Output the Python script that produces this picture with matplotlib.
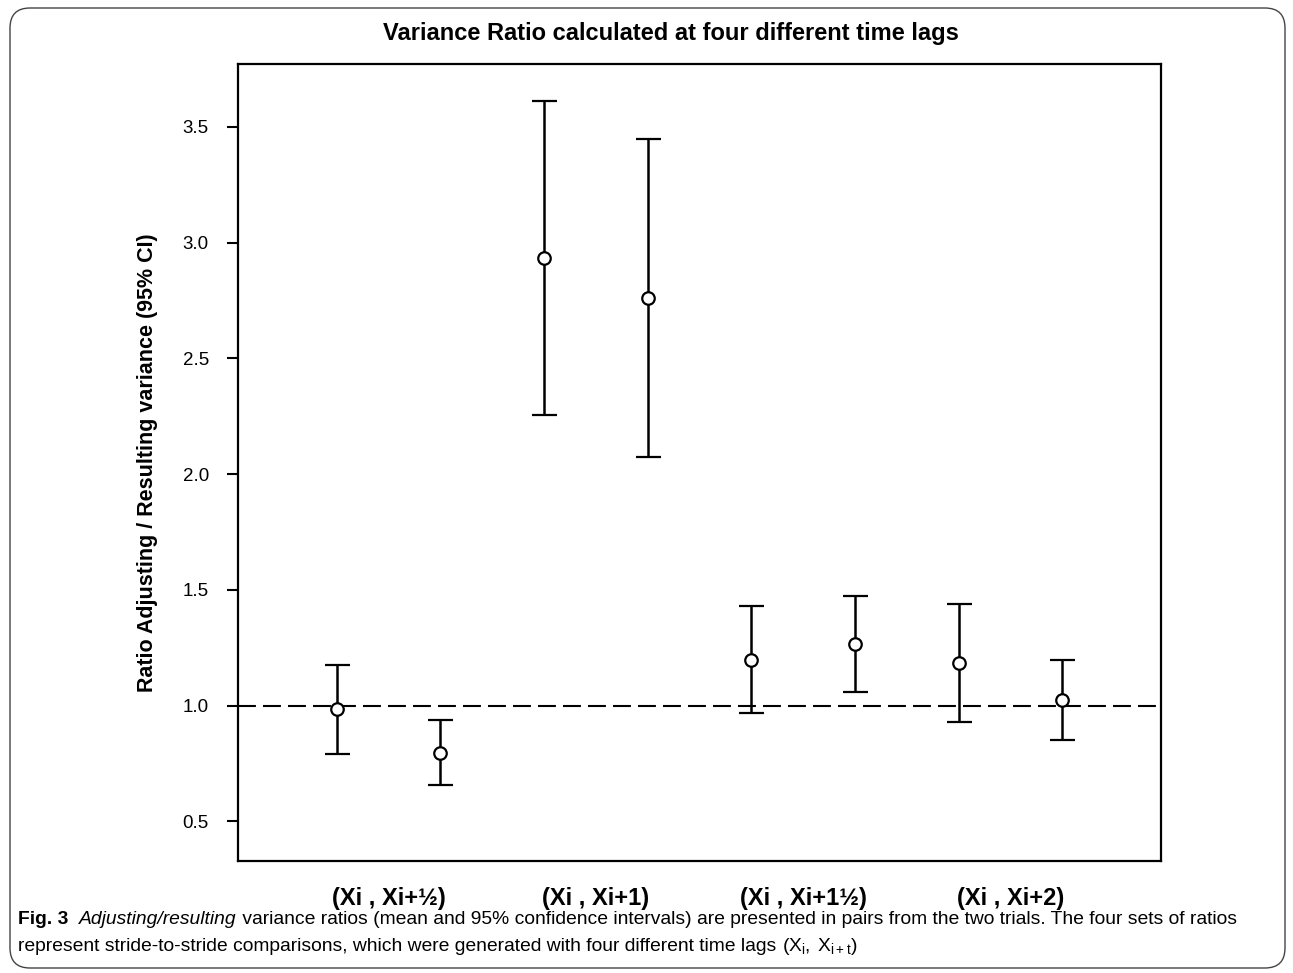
import numpy as np
import matplotlib
matplotlib.use("Agg")
import matplotlib.pyplot as plt
from matplotlib.patches import FancyBboxPatch

# data (two trials per time lag)
lag_labels = ["(Xi , Xi+½)", "(Xi , Xi+1)", "(Xi , Xi+1½)", "(Xi , Xi+2)"]
ratio_mean = [0.984, 0.797, 2.934, 2.761, 1.197, 1.265, 1.184, 1.025]
ci_low = [0.791, 0.659, 2.254, 2.074, 0.967, 1.059, 0.930, 0.852]
ci_high = [1.176, 0.937, 3.613, 3.448, 1.429, 1.474, 1.439, 1.199]
yticks = [0.5, 1.0, 1.5, 2.0, 2.5, 3.0, 3.5]

plt.rcParams['font.family'] = ['Liberation Sans', 'DejaVu Sans']

W, H, dpi = 1293, 973, 100
fig = plt.figure(figsize=(W / dpi, H / dpi), dpi=dpi)
ax = fig.add_axes([238 / W, 1 - 861 / H, (1161 - 238) / W, (861 - 64) / H])

x = np.arange(1, len(ratio_mean) + 1)
mean = np.array(ratio_mean)
yerr = np.vstack([mean - np.array(ci_low), np.array(ci_high) - mean])

ax.axhline(1.0, color='black', lw=1.5, dashes=(8.6, 3.4), zorder=1)
ax.errorbar(x, mean, yerr=yerr, fmt='o', mfc='white', mec='black', mew=1.6,
            ms=9, ecolor='black', elinewidth=1.8, capsize=9, capthick=1.8,
            color='black', zorder=3)

ax.set_xlim(0.05, 8.95)
ax.set_ylim(0.329, 3.772)
ax.set_yticks(yticks)
ax.set_yticklabels([f"{v:.1f}" for v in yticks], fontsize=13.5)
ax.set_xticks([1.5, 3.5, 5.5, 7.5])
ax.set_xticklabels(lag_labels, fontsize=17, fontweight='bold')
ax.tick_params(axis='x', length=0, pad=19)
ax.tick_params(axis='y', length=8, width=1.5, pad=13)
for s in ax.spines.values():
    s.set_linewidth(1.6)

ax.set_ylabel("Ratio Adjusting / Resulting variance (95% CI)", fontsize=15.5,
              fontweight='bold', labelpad=18)
fig.text(671 / W, 1 - 34 / H,
         "Variance Ratio calculated at four different time lags",
         ha='center', va='center', fontsize=17, fontweight='bold')

# rounded frame around the whole figure
frame = FancyBboxPatch((0.10, 0.05), 12.75, 9.60,
                       boxstyle="round,pad=0,rounding_size=0.2",
                       transform=fig.dpi_scale_trans, fill=False,
                       ec='#444444', lw=1.0)
fig.patches.append(frame)

# caption, built piece by piece so styles can change inside a line
cap_font = ['Liberation Sans', 'DejaVu Sans']
cap_size = 13.9
renderer = fig.canvas.get_renderer()


def write_line(pieces, x0, y0):
    xp = x0
    for txt, style, weight in pieces:
        t = fig.text(xp / W, 1 - y0 / H, txt, fontsize=cap_size, family=cap_font,
                     style=style, fontweight=weight, va='baseline', ha='left')
        bb = t.get_window_extent(renderer=renderer)
        xp += bb.width


write_line([("Fig. 3", 'normal', 'bold'),
            ("  ", 'normal', 'normal'),
            ("Adjusting/resulting", 'italic', 'normal'),
            (" variance ratios (mean and 95% confidence intervals) are presented in pairs "
             "from the two trials. The four sets of ratios", 'normal', 'normal')],
           18, 924)
write_line([("represent stride-to-stride comparisons, which were generated with four "
             "different time lags ", 'normal', 'normal'),
            (r"$\mathregular{(X_i,\,X_{i+t})}$", 'normal', 'normal')],
           18, 951)

fig.savefig("out.png", dpi=dpi)
